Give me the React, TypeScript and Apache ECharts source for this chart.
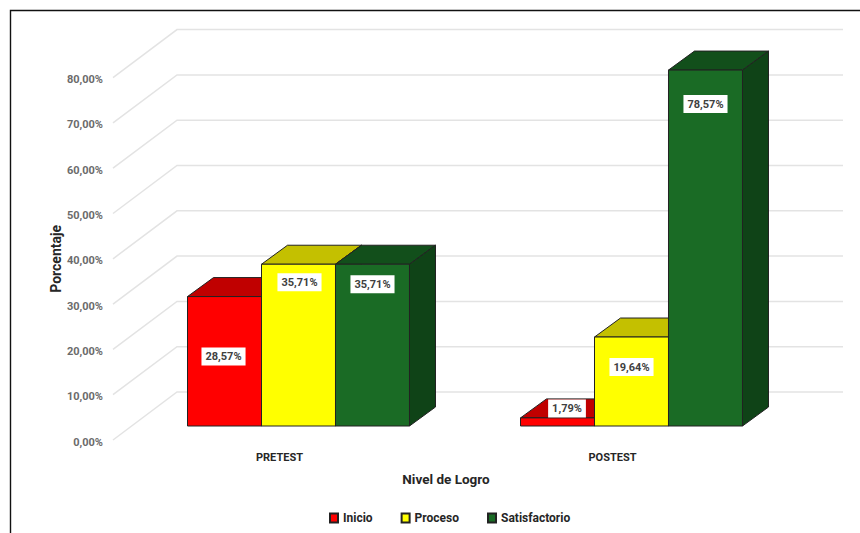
import React, { useEffect, useRef } from "react";
import * as echarts from "echarts";

const categories = ["PRETEST", "POSTEST"];
const inicio = [28.57, 1.79];
const proceso = [35.71, 19.64];
const satisfactorio = [35.71, 78.57];
const gridValues = [0, 10, 20, 30, 40, 50, 60, 70, 80];

const FONT = "Roboto";
const DEPTH_X = 64;
const DEPTH_Y = 48;
const BAR_SHIFT_X = 19;
const BAR_SHIFT_Y = 14;
const BAR_DEPTH_X = 26;
const BAR_DEPTH_Y = 19;
const BAR_RATIO = 0.2222;

const pct = (v: number) => v.toFixed(2).replace(".", ",") + "%";

// Back wall and side wall gridlines of the 3D box
const renderWall = (params: any, api: any) => {
  const cs = params.coordSys;
  const y = api.coord([0, api.value(0)])[1];
  return {
    type: "polyline",
    silent: true,
    shape: {
      points: [
        [cs.x, y],
        [cs.x + DEPTH_X, y - DEPTH_Y],
        [cs.x + cs.width + DEPTH_X, y - DEPTH_Y],
      ],
    },
    style: { fill: "none", stroke: "#e3e3e3", lineWidth: 1.5 },
  };
};

// One extruded bar: top face, side face, front face and its value label
const makeBar = (
  slot: number,
  front: string,
  top: string,
  side: string,
  nudges: number[][],
) => (params: any, api: any) => {
  const i = api.value(0);
  const v = api.value(1);
  const base = api.coord([i, 0]);
  const head = api.coord([i, v]);
  const w = api.size([1, 0])[0] * BAR_RATIO;
  const x0 = base[0] + BAR_SHIFT_X + (slot - 0.5) * w;
  const x1 = x0 + w;
  const y0 = base[1] - BAR_SHIFT_Y;
  const y1 = head[1] - BAR_SHIFT_Y;
  const edge = { stroke: "#222222", lineWidth: 1, lineJoin: "round" };
  return {
    type: "group",
    children: [
      {
        type: "polygon",
        shape: {
          points: [
            [x0, y1],
            [x0 + BAR_DEPTH_X, y1 - BAR_DEPTH_Y],
            [x1 + BAR_DEPTH_X, y1 - BAR_DEPTH_Y],
            [x1, y1],
          ],
        },
        style: { fill: top, ...edge },
      },
      {
        type: "polygon",
        shape: {
          points: [
            [x1, y1],
            [x1 + BAR_DEPTH_X, y1 - BAR_DEPTH_Y],
            [x1 + BAR_DEPTH_X, y0 - BAR_DEPTH_Y],
            [x1, y0],
          ],
        },
        style: { fill: side, ...edge },
      },
      {
        type: "rect",
        shape: { x: x0, y: y1, width: w, height: y0 - y1 },
        style: { fill: front, ...edge },
      },
      {
        type: "text",
        z2: 100,
        x: x0 + w / 2 + nudges[i][0],
        y: y1 + nudges[i][1],
        style: {
          text: pct(v),
          align: "center",
          verticalAlign: "middle",
          fill: "#404040",
          font: `bold 11px ${FONT}`,
          backgroundColor: "#ffffff",
          padding: [4, 4, 3, 4],
        },
      },
    ],
  };
};

const pairs = (values: number[]) => values.map((v, i) => [i, v]);

export default function App() {
  const ref = useRef<HTMLDivElement>(null);

  useEffect(() => {
    document.body.style.margin = "0";
    const chart = echarts.init(ref.current!, null, { renderer: "svg" });
    const common = {
      type: "custom",
      encode: { x: 0, y: 1 },
    };
    chart.setOption({
      animation: false,
      backgroundColor: "#ffffff",
      textStyle: { fontFamily: FONT },
      grid: { left: 113, top: 77.6, width: 666, height: 362.4 },
      xAxis: {
        type: "category",
        data: categories,
        axisLine: { show: false },
        axisTick: { show: false },
        axisLabel: { color: "#262626", fontWeight: "bold", fontSize: 11, margin: 12, fontFamily: FONT },
        name: "Nivel de Logro",
        nameLocation: "middle",
        nameMoveOverlap: false,
        nameGap: 32,
        nameTextStyle: { color: "#262626", fontWeight: "bold", fontSize: 13.5, fontFamily: FONT },
      },
      yAxis: {
        type: "value",
        min: 0,
        max: 80,
        interval: 10,
        axisLine: { show: false },
        axisTick: { show: false },
        splitLine: { show: false },
        axisLabel: {
          formatter: (v: number) => `{t|${pct(v)}}`,
          margin: 10,
          padding: [4, 0, 0, 0],
          rich: {
            t: { color: "#6b6b6b", fontWeight: "bold", fontSize: 11, fontFamily: FONT },
          },
        },
        name: "Porcentaje",
        nameLocation: "middle",
        nameMoveOverlap: false,
        nameGap: 50,
        nameRotate: 90,
        nameTextStyle: { color: "#262626", fontWeight: "bold", fontSize: 14, fontFamily: FONT },
      },
      legend: {
        data: ["Inicio", "Proceso", "Satisfactorio"],
        left: 329,
        top: 512,
        padding: 0,
        icon: "rect",
        itemWidth: 8,
        itemHeight: 9,
        itemGap: 28,
        textStyle: { color: "#262626", fontWeight: "bold", fontSize: 12, fontFamily: FONT },
      },
      series: [
        { ...common, name: "Muro", silent: true, encode: { y: 0 }, data: gridValues.map((v) => [v]), renderItem: renderWall },
        {
          ...common,
          name: "Inicio",
          itemStyle: { color: "#ff0000", borderColor: "#222222", borderWidth: 1 },
          data: pairs(inicio),
          renderItem: makeBar(-1, "#ff0000", "#c00000", "#a00000", [[-1, 60], [9.5, -9.5]]),
        },
        {
          ...common,
          name: "Proceso",
          itemStyle: { color: "#ffff00", borderColor: "#222222", borderWidth: 1 },
          data: pairs(proceso),
          renderItem: makeBar(0, "#ffff00", "#c4c000", "#a8a400", [[1, 18], [0, 30]]),
        },
        {
          ...common,
          name: "Satisfactorio",
          itemStyle: { color: "#1a6b25", borderColor: "#222222", borderWidth: 1 },
          data: pairs(satisfactorio),
          renderItem: makeBar(1, "#1a6b25", "#124f1b", "#0f4317", [[0, 20], [0, 34]]),
        },
      ],
      graphic: [
        {
          type: "polyline",
          silent: true,
          shape: { points: [[10.5, 533], [10.5, 10.5], [860, 10.5]] },
          style: { fill: "none", stroke: "#111111", lineWidth: 1.4 },
        },
      ],
    });
    return () => chart.dispose();
  }, []);

  return <div ref={ref} style={{ width: 860, height: 533 }} />;
}
